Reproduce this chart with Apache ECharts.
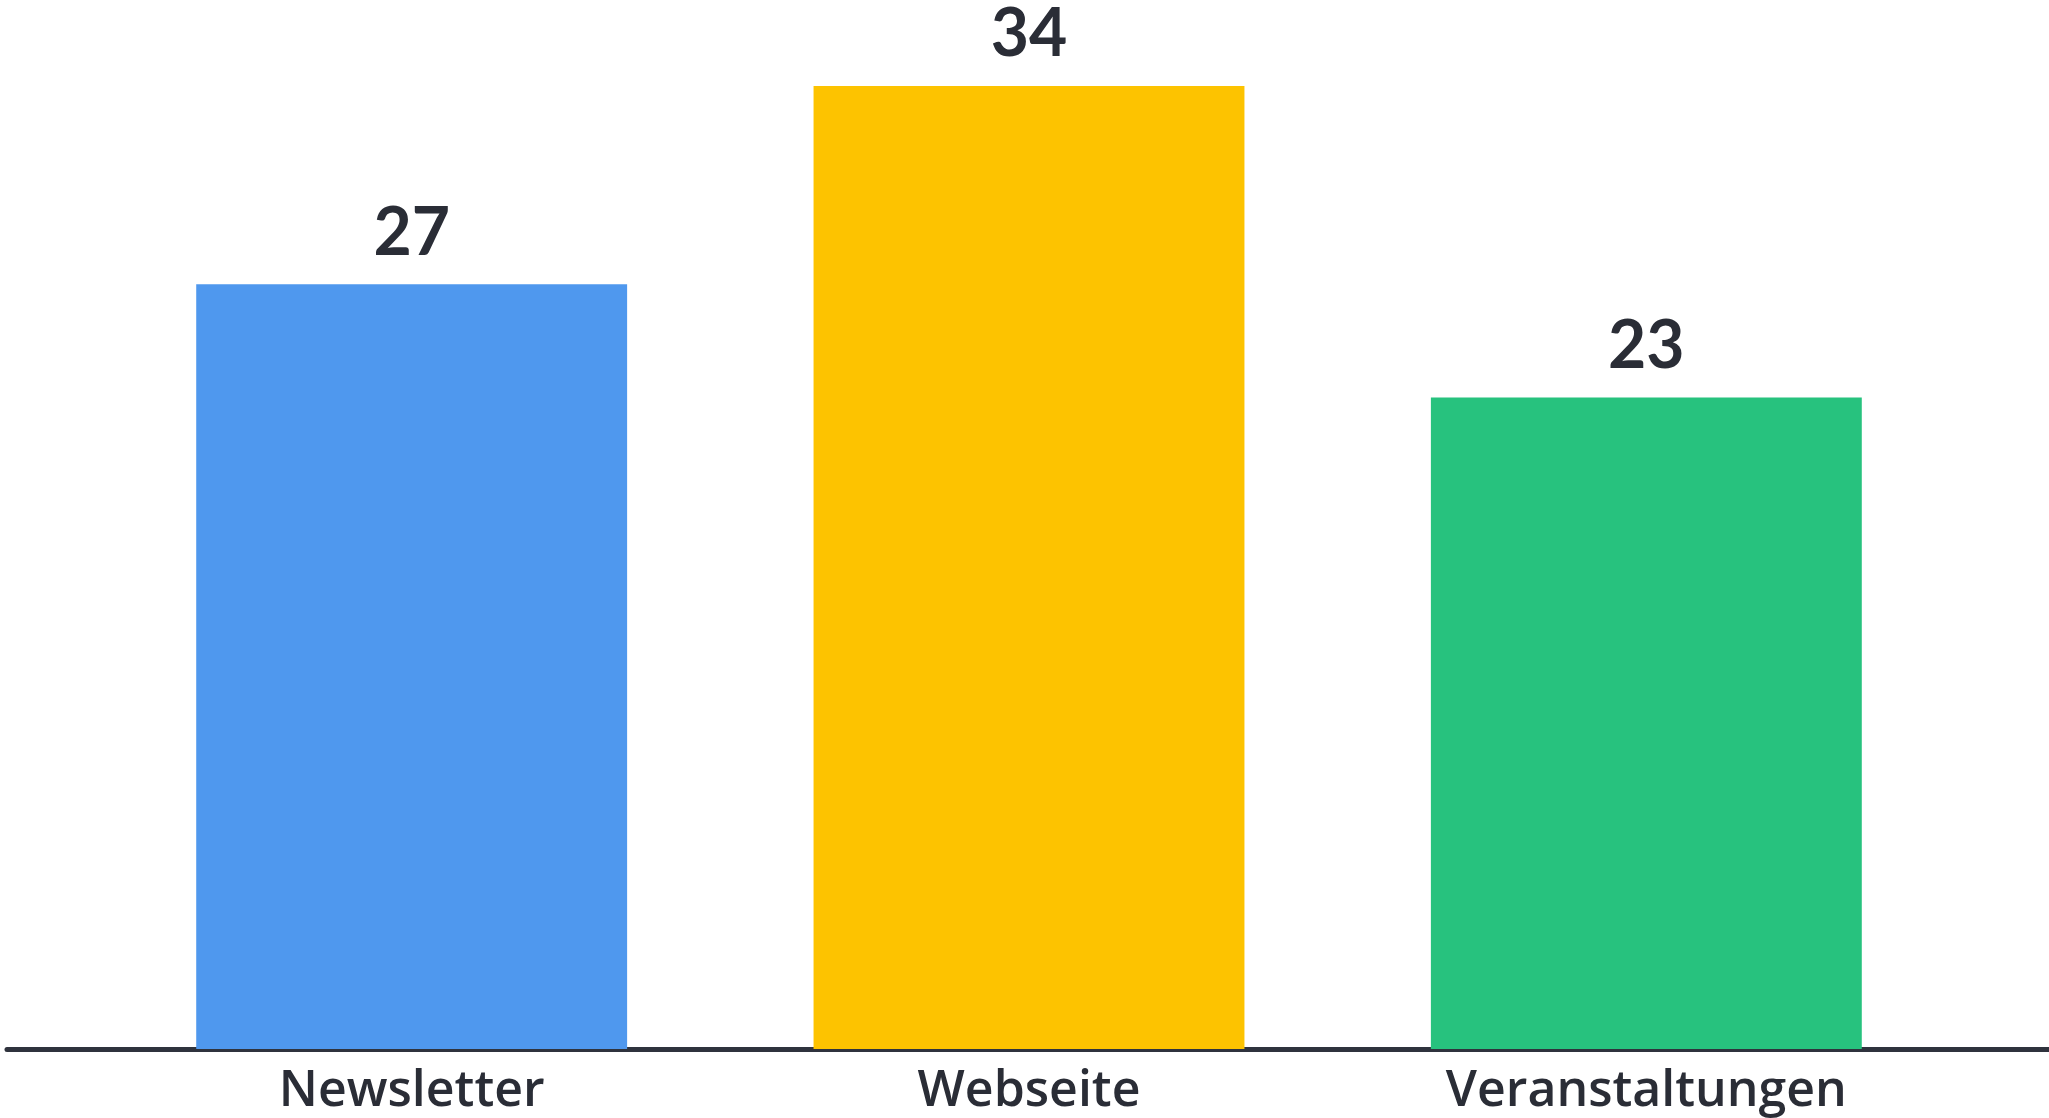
<!DOCTYPE html>
<html>
<head>
<meta charset="utf-8">
<script src="https://cdn.jsdelivr.net/npm/echarts@6/dist/echarts.min.js"></script>
<style>
html,body{margin:0;padding:0;background:#fff;}
#chart{width:2049px;height:1118px;}
</style>
</head>
<body>
<div id="chart"></div>
<script>
const categories = ["Newsletter", "Webseite", "Veranstaltungen"];
const values = [27, 34, 23];
const barColors = ["#4F98EE", "#FDC300", "#27C27E"];

const chart = echarts.init(document.getElementById('chart'));
chart.setOption({
  backgroundColor: '#ffffff',
  animation: false,
  grid: [
    {left: 103, right: 94, top: 1, bottom: 69},
    {left: 7, right: 0, top: 1, bottom: 69}
  ],
  xAxis: [
    {
      type: 'category', data: categories, gridIndex: 0,
      axisLine: {show: false}, axisTick: {show: false},
      axisLabel: {color: '#2A2D36', fontFamily: 'Open Sans', fontSize: 50, fontWeight: 600, margin: 18}
    },
    {
      type: 'value', gridIndex: 1, min: 0, max: 1,
      axisLine: {show: true, onZero: false, lineStyle: {color: '#2F333D', width: 5}},
      axisTick: {show: false}, axisLabel: {show: false}, splitLine: {show: false}
    }
  ],
  yAxis: [
    {type: 'value', gridIndex: 0, min: 0, max: 37, show: false},
    {type: 'value', gridIndex: 1, min: 0, max: 1, show: false}
  ],
  series: [{
    type: 'bar',
    xAxisIndex: 0, yAxisIndex: 0,
    barCategoryGap: '30.2%',
    data: values.map((v, i) => ({value: v, itemStyle: {color: barColors[i]}})),
    label: {
      show: true, position: 'top', distance: 18,
      color: '#2A2D36', fontFamily: 'Lato', fontSize: 66, fontWeight: 'bold'
    }
  }]
});
</script>
</body>
</html>
